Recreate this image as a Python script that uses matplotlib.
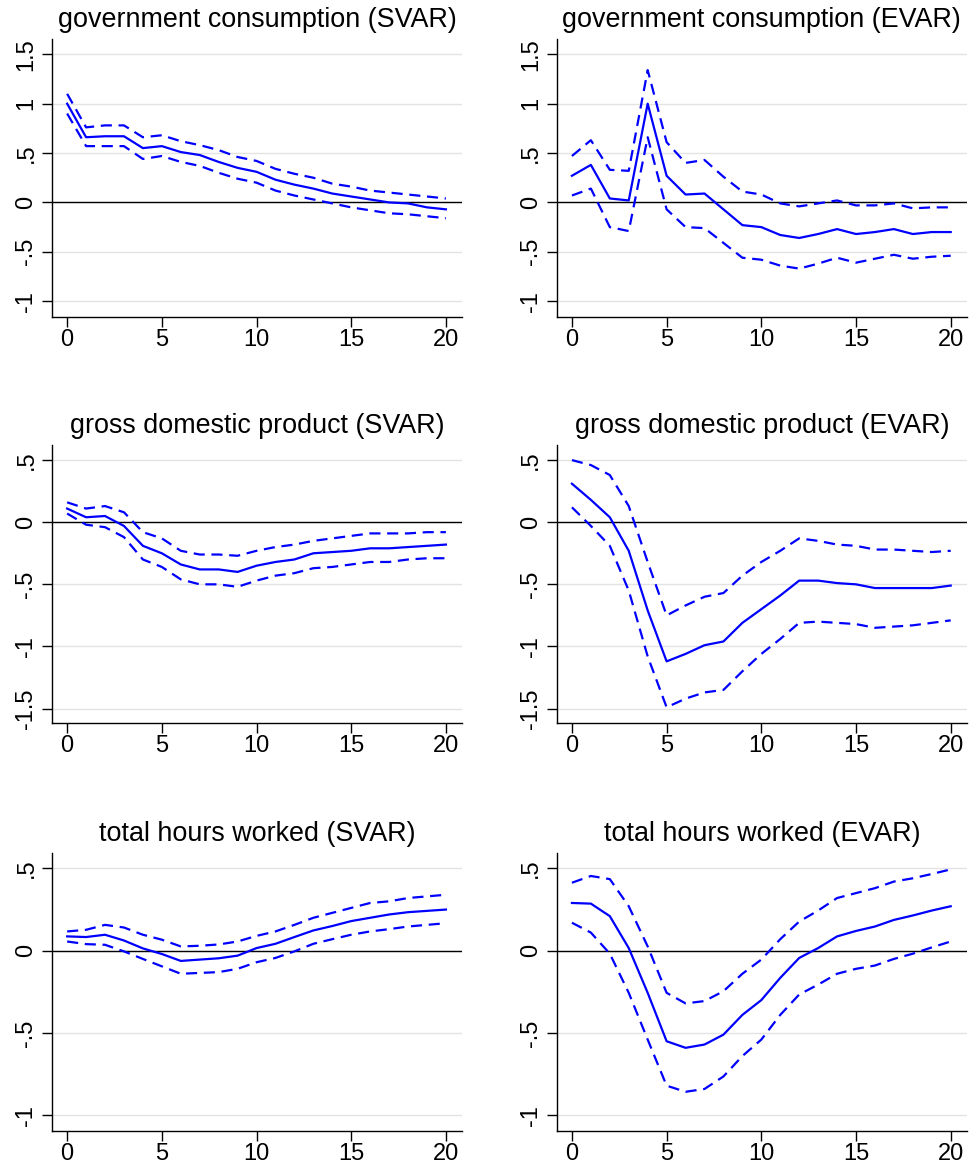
import numpy as np
import matplotlib
matplotlib.use("Agg")
import matplotlib.pyplot as plt

plt.rcParams['font.family'] = ['Liberation Sans', 'DejaVu Sans']

horizon = list(range(21))

# government consumption
gov_svar = [1.00, 0.66, 0.67, 0.67, 0.55, 0.57, 0.51, 0.48, 0.41, 0.35, 0.31,
            0.23, 0.18, 0.14, 0.09, 0.06, 0.03, 0.00, -0.01, -0.05, -0.07]
gov_svar_hi = [1.10, 0.76, 0.78, 0.78, 0.66, 0.68, 0.62, 0.58, 0.53, 0.46, 0.42,
               0.34, 0.29, 0.25, 0.19, 0.16, 0.12, 0.10, 0.08, 0.06, 0.04]
gov_svar_lo = [0.90, 0.57, 0.57, 0.57, 0.44, 0.47, 0.41, 0.37, 0.30, 0.24, 0.20,
               0.12, 0.07, 0.03, -0.01, -0.05, -0.08, -0.11, -0.12, -0.14, -0.16]
gov_evar = [0.27, 0.38, 0.04, 0.02, 1.00, 0.27, 0.08, 0.09, -0.07, -0.23, -0.25,
            -0.33, -0.36, -0.32, -0.27, -0.32, -0.30, -0.27, -0.32, -0.30, -0.30]
gov_evar_hi = [0.47, 0.63, 0.33, 0.32, 1.34, 0.61, 0.40, 0.43, 0.26, 0.11, 0.08,
               -0.01, -0.04, -0.01, 0.02, -0.03, -0.03, -0.01, -0.06, -0.05, -0.05]
gov_evar_lo = [0.07, 0.14, -0.25, -0.29, 0.66, -0.07, -0.25, -0.26, -0.41, -0.56, -0.58,
               -0.64, -0.67, -0.62, -0.56, -0.61, -0.57, -0.53, -0.57, -0.55, -0.54]

# gross domestic product
gdp_svar = [0.11, 0.04, 0.05, -0.03, -0.19, -0.25, -0.34, -0.38, -0.38, -0.40, -0.35,
            -0.32, -0.30, -0.25, -0.24, -0.23, -0.21, -0.21, -0.20, -0.19, -0.18]
gdp_svar_hi = [0.16, 0.11, 0.13, 0.08, -0.08, -0.13, -0.23, -0.26, -0.26, -0.27, -0.23,
               -0.20, -0.18, -0.15, -0.13, -0.11, -0.09, -0.09, -0.09, -0.08, -0.08]
gdp_svar_lo = [0.07, -0.02, -0.04, -0.12, -0.30, -0.36, -0.46, -0.50, -0.50, -0.52, -0.47,
               -0.43, -0.41, -0.37, -0.36, -0.34, -0.32, -0.32, -0.30, -0.29, -0.29]
gdp_evar = [0.31, 0.18, 0.04, -0.23, -0.71, -1.12, -1.06, -0.99, -0.96, -0.81, -0.70,
            -0.59, -0.47, -0.47, -0.49, -0.50, -0.53, -0.53, -0.53, -0.53, -0.51]
gdp_evar_hi = [0.50, 0.46, 0.38, 0.13, -0.32, -0.75, -0.67, -0.60, -0.57, -0.43, -0.32,
               -0.23, -0.13, -0.15, -0.18, -0.19, -0.22, -0.22, -0.23, -0.24, -0.23]
gdp_evar_lo = [0.12, -0.03, -0.19, -0.55, -1.08, -1.49, -1.42, -1.37, -1.35, -1.20, -1.06,
               -0.94, -0.81, -0.80, -0.81, -0.82, -0.85, -0.84, -0.83, -0.81, -0.79]

# total hours worked
hrs_svar = [0.087, 0.083, 0.097, 0.062, 0.014, -0.020, -0.062, -0.054, -0.046, -0.030, 0.016,
            0.042, 0.083, 0.123, 0.150, 0.180, 0.200, 0.220, 0.234, 0.242, 0.250]
hrs_svar_hi = [0.117, 0.127, 0.157, 0.141, 0.097, 0.067, 0.026, 0.030, 0.038, 0.056, 0.090,
               0.117, 0.157, 0.200, 0.230, 0.260, 0.290, 0.300, 0.320, 0.330, 0.340]
hrs_svar_lo = [0.056, 0.040, 0.036, -0.004, -0.050, -0.095, -0.140, -0.135, -0.130, -0.110, -0.070,
               -0.044, -0.004, 0.042, 0.070, 0.097, 0.117, 0.131, 0.147, 0.157, 0.167]
hrs_evar = [0.290, 0.286, 0.210, 0.016, -0.256, -0.550, -0.590, -0.570, -0.510, -0.390, -0.300,
            -0.165, -0.044, 0.016, 0.087, 0.120, 0.147, 0.187, 0.214, 0.244, 0.270]
hrs_evar_hi = [0.413, 0.454, 0.435, 0.270, 0.026, -0.256, -0.320, -0.306, -0.246, -0.140, -0.054,
               0.070, 0.177, 0.244, 0.320, 0.350, 0.380, 0.420, 0.440, 0.466, 0.494]
hrs_evar_lo = [0.170, 0.110, -0.018, -0.256, -0.540, -0.820, -0.857, -0.840, -0.764, -0.640, -0.540,
               -0.390, -0.266, -0.206, -0.140, -0.110, -0.090, -0.050, -0.018, 0.020, 0.056]

titles = [
    "government consumption (SVAR)", "government consumption (EVAR)",
    "gross domestic product (SVAR)", "gross domestic product (EVAR)",
    "total hours worked (SVAR)", "total hours worked (EVAR)",
]
series = [
    (gov_svar, gov_svar_hi, gov_svar_lo), (gov_evar, gov_evar_hi, gov_evar_lo),
    (gdp_svar, gdp_svar_hi, gdp_svar_lo), (gdp_evar, gdp_evar_hi, gdp_evar_lo),
    (hrs_svar, hrs_svar_hi, hrs_svar_lo), (hrs_evar, hrs_evar_hi, hrs_evar_lo),
]

row_yticks = [
    [-1, -0.5, 0, 0.5, 1, 1.5],
    [-1.5, -1, -0.5, 0, 0.5],
    [-1, -0.5, 0, 0.5],
]
row_ylabels = [
    ["-1", "-.5", "0", ".5", "1", "1.5"],
    ["-1.5", "-1", "-.5", "0", ".5"],
    ["-1", "-.5", "0", ".5"],
]
row_ylim = [(-1.16, 1.65), (-1.616, 0.618), (-1.095, 0.591)]
xticks = [0, 5, 10, 15, 20]

fig = plt.figure(figsize=(9.70, 11.71), dpi=100)

col_left = [0.0536, 0.574]
row_bottom = [0.7293, 0.3826, 0.0342]
ax_w = 0.4227
ax_h = 0.237

for i in range(6):
    r, c = divmod(i, 2)
    ax = fig.add_axes([col_left[c], row_bottom[r], ax_w, ax_h])
    irf, hi, lo = series[i]

    ax.set_yticks(row_yticks[r])
    ax.set_yticklabels(row_ylabels[r], rotation=90, va='center')
    ax.set_xticks(xticks)
    ax.set_ylim(*row_ylim[r])
    ax.set_xlim(-0.8, 20.85)

    ax.grid(axis='y', color='#e3e3e3', lw=1.0)
    ax.set_axisbelow(True)
    ax.axhline(0, color='black', lw=1.0, zorder=2)

    ax.plot(horizon, irf, color='#0000ff', lw=1.6, zorder=3)
    ax.plot(horizon, hi, color='#0000ff', lw=1.6, ls=(0, (5, 3)), zorder=3)
    ax.plot(horizon, lo, color='#0000ff', lw=1.6, ls=(0, (5, 3)), zorder=3)

    ax.spines['top'].set_visible(False)
    ax.spines['right'].set_visible(False)
    ax.spines['left'].set_linewidth(1.0)
    ax.spines['bottom'].set_linewidth(1.0)
    ax.tick_params(axis='both', length=7, width=1.0, labelsize=17)
    ax.tick_params(axis='y', pad=3.5)
    ax.tick_params(axis='x', pad=1.5)
    ax.set_title(titles[i], fontsize=19.4, pad=9)

fig.savefig("out.png", dpi=100)
